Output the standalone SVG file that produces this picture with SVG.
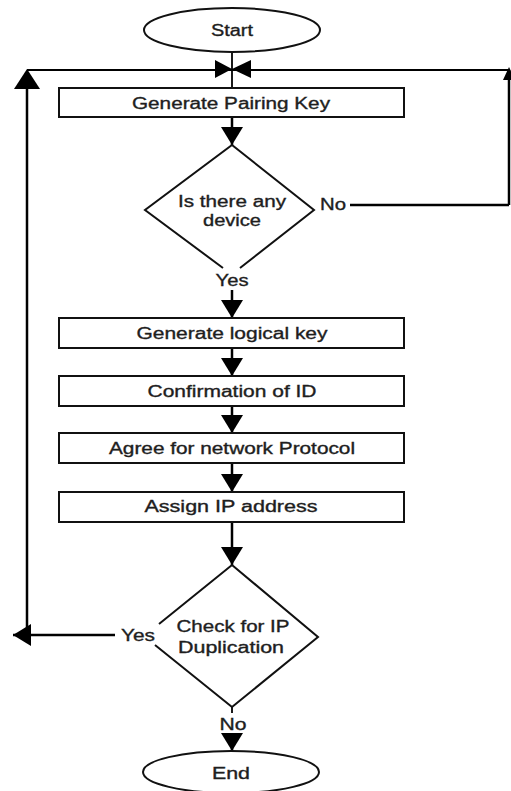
<svg xmlns="http://www.w3.org/2000/svg" width="511" height="791" viewBox="0 0 511 791">
<style>
.shape{fill:#fff;stroke:#111;stroke-width:2}
.dia{fill:none;stroke:#111;stroke-width:2}
.ln{fill:none;stroke:#000;stroke-width:2.5}
.thin{fill:none;stroke:#000;stroke-width:1.8}
.t{font-family:"Liberation Sans",Arial,sans-serif;font-size:16px;fill:#1e1e1e;text-anchor:middle;stroke:#1e1e1e;stroke-width:0.35}
.head{fill:#000}
</style>
<defs>
<marker id="ah" markerUnits="userSpaceOnUse" viewBox="0 0 18 22" refX="18" refY="11" markerWidth="18" markerHeight="22" orient="auto">
<path d="M0,0 L18,11 L0,22 z" class="head"/>
</marker>
</defs>

<g id="connectors">
<!-- start to pairing key -->
<line class="thin" x1="232" y1="52" x2="232" y2="88"/>
<!-- top loop line -->
<line class="thin" x1="27" y1="70" x2="509" y2="70"/>
<polygon class="head" points="215,60 215,78 232,69"/>
<polygon class="head" points="251,60 251,78 232,69"/>
<!-- left return line -->
<line class="ln" x1="27" y1="635" x2="27" y2="88"/>
<polygon class="head" points="14,89 40,89 27,69"/>
<!-- right return line -->
<line class="ln" x1="509" y1="205" x2="509" y2="70"/>
<polygon class="head" points="503,80 515,80 509,67"/>
<line class="ln" x1="350" y1="205" x2="509" y2="205"/>
<!-- pairing key to diamond -->
<line class="ln" x1="232" y1="117" x2="232" y2="145" marker-end="url(#ah)"/>
<!-- yes to logical key -->
<line class="ln" x1="232" y1="290" x2="232" y2="318" marker-end="url(#ah)"/>
<line class="ln" x1="232" y1="348" x2="232" y2="376" marker-end="url(#ah)"/>
<line class="ln" x1="232" y1="406" x2="232" y2="433" marker-end="url(#ah)"/>
<line class="ln" x1="232" y1="463" x2="232" y2="492" marker-end="url(#ah)"/>
<line class="ln" x1="232" y1="522" x2="232" y2="565" marker-end="url(#ah)"/>
<!-- duplication yes to left -->
<line class="ln" x1="115" y1="635" x2="13" y2="635" marker-end="url(#ah)"/>
<!-- duplication no to end -->
<line class="thin" x1="232" y1="707" x2="232" y2="713"/>
<line class="ln" x1="232" y1="733" x2="232" y2="751" marker-end="url(#ah)"/>
</g>

<g id="start">
<ellipse class="shape" cx="232" cy="30" rx="88" ry="22"/>
<text class="t" x="232" y="36" textLength="42" lengthAdjust="spacingAndGlyphs">Start</text>
</g>

<g id="pairing-key">
<rect class="shape" x="59" y="88" width="345" height="29"/>
<text class="t" x="231" y="109" textLength="198" lengthAdjust="spacingAndGlyphs">Generate Pairing Key</text>
</g>

<g id="any-device">
<path class="dia" d="M223,268 L145,210 L232,145 L314,210 L240,268"/>
<text class="t" x="232" y="207" textLength="108" lengthAdjust="spacingAndGlyphs">Is there any</text>
<text class="t" x="232" y="226" textLength="58" lengthAdjust="spacingAndGlyphs">device</text>
<text class="t" x="333" y="210" textLength="26" lengthAdjust="spacingAndGlyphs">No</text>
<text class="t" x="232" y="286" textLength="33" lengthAdjust="spacingAndGlyphs">Yes</text>
</g>

<g id="logical-key">
<rect class="shape" x="59" y="318" width="345" height="30"/>
<text class="t" x="232" y="339" textLength="191" lengthAdjust="spacingAndGlyphs">Generate logical key</text>
</g>

<g id="confirm-id">
<rect class="shape" x="59" y="376" width="345" height="30"/>
<text class="t" x="232" y="397" textLength="169" lengthAdjust="spacingAndGlyphs">Confirmation of ID</text>
</g>

<g id="protocol">
<rect class="shape" x="59" y="433" width="345" height="30"/>
<text class="t" x="232" y="454" textLength="246" lengthAdjust="spacingAndGlyphs">Agree for network Protocol</text>
</g>

<g id="assign-ip">
<rect class="shape" x="59" y="492" width="345" height="30"/>
<text class="t" x="231" y="512" textLength="173" lengthAdjust="spacingAndGlyphs">Assign IP address</text>
</g>

<g id="ip-duplication">
<path class="dia" d="M159,624 L232,565 L318,637 L232,707 L155,645"/>
<text class="t" x="233" y="632" textLength="113" lengthAdjust="spacingAndGlyphs">Check for IP</text>
<text class="t" x="231" y="653" textLength="106" lengthAdjust="spacingAndGlyphs">Duplication</text>
<text class="t" x="138" y="641" textLength="34" lengthAdjust="spacingAndGlyphs">Yes</text>
<text class="t" x="233" y="730" textLength="27" lengthAdjust="spacingAndGlyphs">No</text>
</g>

<g id="end">
<ellipse class="shape" cx="231" cy="772" rx="88" ry="21"/>
<text class="t" x="231" y="779" textLength="38" lengthAdjust="spacingAndGlyphs">End</text>
</g>
</svg>
